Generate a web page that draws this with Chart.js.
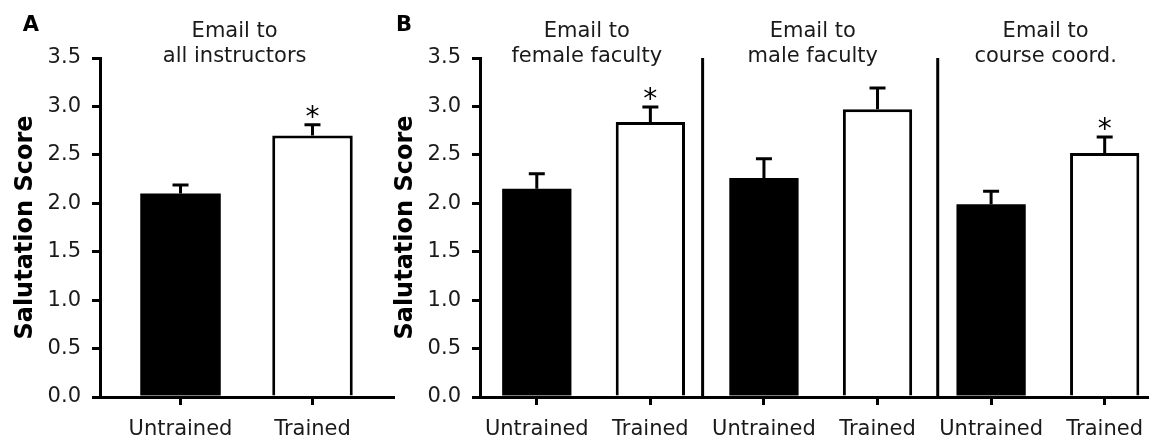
<!DOCTYPE html>
<html lang="en">
<head>
<meta charset="UTF-8">
<title>Salutation Score</title>
<script src="https://cdn.jsdelivr.net/npm/chart.js"></script>
<style>
    body {
        margin: 0;
        background: #fff;
        overflow: hidden;
    }
    .panel {
        position: absolute;
        top: 0;
        height: 440px;
    }
    #panelA { left: 0; width: 395px; }
    #panelB { left: 380px; width: 775px; }
</style>
</head>
<body>
<div class="panel" id="panelA"><canvas id="chartA"></canvas></div>
<div class="panel" id="panelB"><canvas id="chartB"></canvas></div>
<script>
// Panel A: email to all instructors
const labelsA = ['Untrained', 'Trained'];
const meansA = [2.10, 2.70];
const semA = [0.09, 0.11];
const starsA = [false, true];
const titleA = ['Email to', 'all instructors'];

// Panel B: female faculty / male faculty / course coordinator
const labelsB = ['Untrained', 'Trained', 'Untrained', 'Trained', 'Untrained', 'Trained'];
const meansB = [2.15, 2.84, 2.26, 2.97, 1.99, 2.52];
const semB = [0.155, 0.155, 0.20, 0.22, 0.135, 0.165];
const starsB = [false, true, false, false, false, true];
const groupsB = [
    ['Email to', 'female faculty'],
    ['Email to', 'male faculty'],
    ['Email to', 'course coord.']
];

const yTicks = [0, 0.5, 1.0, 1.5, 2.0, 2.5, 3.0, 3.5];
const yTitle = 'Salutation Score';

Chart.defaults.font.family = '"DejaVu Sans", Verdana, sans-serif';
Chart.defaults.color = '#1a1a1a';

// error bars, stars, group titles, dividers and panel letter
const extras = {
    id: 'extras',
    afterDatasetsDraw(chart, args, opts) {
        const ctx = chart.ctx;
        const x = chart.scales.x, y = chart.scales.y;
        const meta = chart.getDatasetMeta(0);
        ctx.save();
        ctx.strokeStyle = '#000';
        ctx.fillStyle = '#000';
        ctx.lineWidth = 3;

        opts.dividers.forEach(v => {
            const px = x.getPixelForValue(v);
            ctx.beginPath();
            ctx.moveTo(px, y.getPixelForValue(yTicks[yTicks.length - 1]));
            ctx.lineTo(px, y.bottom);
            ctx.stroke();
        });

        meta.data.forEach((bar, i) => {
            const top = y.getPixelForValue(opts.means[i] + opts.sem[i]);
            ctx.beginPath();
            ctx.moveTo(bar.x, bar.y);
            ctx.lineTo(bar.x, top);
            ctx.moveTo(bar.x - 8, top);
            ctx.lineTo(bar.x + 8, top);
            ctx.stroke();
            if (opts.stars[i]) {
                ctx.font = '28px "DejaVu Sans"';
                ctx.textAlign = 'center';
                ctx.textBaseline = 'alphabetic';
                ctx.fillText('*', bar.x, top + 1);
            }
        });

        ctx.font = '21px "DejaVu Sans"';
        ctx.fillStyle = '#1a1a1a';
        ctx.textAlign = 'center';
        ctx.textBaseline = 'middle';
        opts.titles.forEach(t => {
            const px = x.getPixelForValue(t.at);
            ctx.fillText(t.lines[0], px, 32);
            ctx.fillText(t.lines[1], px, 57);
        });

        ctx.font = 'bold 21px "DejaVu Sans"';
        ctx.fillStyle = '#000';
        ctx.fillText(opts.letter, opts.letterX, 26);
        ctx.restore();
    }
};

function makeChart(id, labels, means, sem, stars, xMin, xMax, padRight, titles, dividers, letter, letterX) {
    const ctx = document.getElementById(id).getContext('2d');
    return new Chart(ctx, {
        type: 'bar',
        data: {
            datasets: [{
                data: means.map((m, i) => ({ x: i + 1, y: m })),
                backgroundColor: labels.map(l => l === 'Untrained' ? '#000' : '#fff'),
                borderColor: '#000',
                borderWidth: labels.map(l => l === 'Untrained' ? 0 : 3),
                barPercentage: 0.61,
                categoryPercentage: 1
            }]
        },
        options: {
            responsive: true,
            maintainAspectRatio: false,
            animation: false,
            layout: { padding: { top: 58, right: padRight, left: 0, bottom: 0 } },
            plugins: {
                legend: { display: false },
                tooltip: { enabled: false },
                extras: { means, sem, stars, titles, dividers, letter, letterX }
            },
            scales: {
                x: {
                    type: 'linear',
                    min: xMin,
                    max: xMax,
                    offset: false,
                    afterBuildTicks: s => { s.ticks = labels.map((_, i) => ({ value: i + 1 })); },
                    afterFit: s => { s.height = 43; },
                    ticks: {
                        callback: v => labels[v - 1],
                        font: { size: 21 },
                        padding: 12,
                        maxRotation: 0,
                        autoSkip: false
                    },
                    grid: { offset: false, drawOnChartArea: false, tickLength: 8, color: '#000', lineWidth: 3 },
                    border: { color: '#000', width: 3 }
                },
                y: {
                    min: 0,
                    max: 3.5,
                    afterBuildTicks: s => { s.ticks = yTicks.map(v => ({ value: v })); },
                    afterFit: s => { s.width = 100; },
                    ticks: {
                        callback: v => v.toFixed(1),
                        font: { size: 21 },
                        padding: 11
                    },
                    grid: { drawOnChartArea: false, tickLength: 8, color: '#000', lineWidth: 3 },
                    border: { color: '#000', width: 3 },
                    title: {
                        display: true,
                        text: yTitle,
                        color: '#000',
                        font: { size: 24, weight: 'bold' },
                        padding: { top: 11, bottom: 0 }
                    }
                }
            }
        },
        plugins: [extras]
    });
}

makeChart('chartA', labelsA, meansA, semA, starsA, 0.39, 2.61, 2,
    [{ at: 1.41, lines: titleA }], [], 'A', 31);

makeChart('chartB', labelsB, meansB, semB, starsB, 0.5, 6.4, 0,
    groupsB.map((g, i) => ({ at: [1.44, 3.43, 5.48][i], lines: g })), [2.46, 4.53], 'B', 24);
</script>
</body>
</html>
